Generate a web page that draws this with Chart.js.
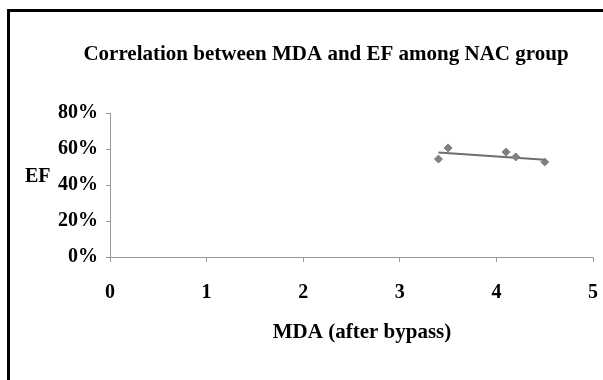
<!DOCTYPE html>
<html>
<head>
<meta charset="utf-8">
<script src="https://cdn.jsdelivr.net/npm/chart.js@4.4.0/dist/chart.umd.min.js"></script>
<style>
  html, body { margin: 0; padding: 0; background: #fff; overflow: hidden; }
  #wrap { position: relative; width: 603px; height: 380px; }
  #frame { position: absolute; left: 7px; top: 9px; width: 700px; height: 500px; border: 3px solid #000; box-sizing: border-box; }
  canvas { position: absolute; left: 0; top: 0; }
</style>
</head>
<body>
<div id="wrap">
  <div id="frame"></div>
  <canvas id="chart" width="603" height="380"></canvas>
</div>
<script>
// data
const mdaValues = [3.4, 3.5, 4.1, 4.2, 4.5];
const efValues = [54.4, 60.6, 58.3, 55.6, 52.8];   // percent
const trendMda = [3.4, 4.5];
const trendEf = [58.1, 54.0];
const xTicks = [0, 1, 2, 3, 4, 5];
const yTicks = [0, 20, 40, 60, 80];

const chartTitle = "Correlation between MDA and EF among NAC group";
const xTitle = "MDA (after bypass)";
const yTitle = "EF";

const serif = "'Liberation Serif', 'Times New Roman', serif";

// chart title, axis titles (Excel places them a bit off-centre, EF is horizontal)
const textPlugin = {
    id: "textPlugin",
    afterDraw(chart) {
        const ctx = chart.ctx;
        const yScale = chart.scales.y;
        ctx.save();
        ctx.fillStyle = "#000";
        ctx.font = "bold 21px " + serif;
        ctx.textAlign = "center";
        ctx.textBaseline = "middle";
        ctx.fillText(chartTitle, 326, 55);
        ctx.fillText(xTitle, 362, 333);
        ctx.font = "bold 20px " + serif;
        ctx.textAlign = "left";
        ctx.fillText(yTitle, 25, yScale.getPixelForValue(40) - 8);
        ctx.restore();
    }
};

let chart = new Chart(document.getElementById("chart"), {
    type: "scatter",
    data: {
        datasets: [{
            label: "EF",
            data: mdaValues.map((x, i) => ({x: x, y: efValues[i]})),
            pointStyle: "rectRot",
            pointRadius: 4,
            pointBackgroundColor: "#808080",
            pointBorderColor: "#808080",
            showLine: false
        }, {
            label: "Linear",
            data: trendMda.map((x, i) => ({x: x, y: trendEf[i]})),
            showLine: true,
            borderColor: "#6e6e6e",
            borderWidth: 2,
            pointRadius: 0
        }]
    },
    options: {
        responsive: false,
        animation: false,
        layout: { padding: { top: 113, right: 10, bottom: 35, left: 0 } },
        plugins: {
            legend: { display: false },
            tooltip: { enabled: false },
            title: { display: false }
        },
        scales: {
            x: {
                type: "linear",
                min: 0,
                max: 5,
                afterBuildTicks: s => { s.ticks = xTicks.map(v => ({value: v})); },
                afterFit: s => { s.height = 88; s.paddingRight = 0; s.paddingLeft = 0; },
                grid: { drawOnChartArea: false, drawTicks: true, tickLength: 5, color: "#999" },
                border: { color: "#999", width: 1 },
                ticks: { padding: 19, color: "#000", font: { family: serif, size: 20, weight: "bold" } }
            },
            y: {
                min: 0,
                max: 80,
                afterBuildTicks: s => { s.ticks = yTicks.map(v => ({value: v})); },
                afterFit: s => { s.width = 110; },
                grid: { drawOnChartArea: false, drawTicks: true, tickLength: 4, color: "#999" },
                border: { color: "#999", width: 1 },
                ticks: {
                    padding: 8,
                    color: "#000",
                    font: { family: serif, size: 20, weight: "bold" },
                    callback: v => v + "%"
                }
            }
        }
    },
    plugins: [textPlugin]
});
</script>
</body>
</html>
